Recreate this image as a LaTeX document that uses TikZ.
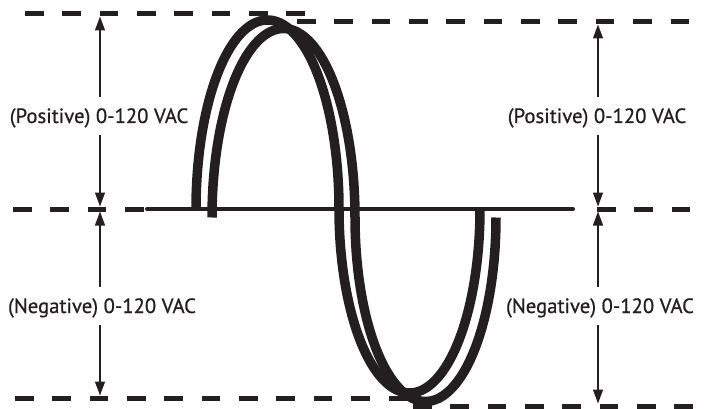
\documentclass[tikz,border=0pt]{standalone}
\usepackage{fontspec}
\newfontfamily\labfont{PT Sans}[FakeBold=0.7]
\usetikzlibrary{arrows.meta}
\definecolor{ink}{RGB}{35,31,32}
\begin{document}
\begin{tikzpicture}[x=1pt,y=-1pt,
  dashline/.style={ink, line width=5pt, dash pattern=on 18.5pt off 18.85pt},
  wave/.style={ink, line width=9.5pt, line join=round},
  axisline/.style={ink, line width=4pt, line cap=round},
  arr/.style={ink, line width=1.3pt, -{Triangle[length=14pt,width=10pt]}},
  lab/.style={text=ink, font=\labfont\fontsize{20.7}{24}\selectfont, inner xsep=0pt,
    inner ysep=11.5pt, text height=14.5pt, text depth=0pt, anchor=base}]
\useasboundingbox (0,0) rectangle (704,409);
% dashed reference lines
\draw[dashline] (25,14) -- (305,14);
\draw[dashline] (297,22) -- (689,22);
\draw[dashline] (13,209) -- (144,209);
\draw[dashline] (597,209) -- (690,209);
\draw[dashline] (15,398) -- (407,398);
\draw[dashline] (413,406) -- (693,406);
% waves
\draw[wave] plot[domain=180:360, samples=120] ({267.5+71.5*cos(\x)},{209+189*sin(\x)})
  -- plot[domain=180:0, samples=120] ({409.5+70.5*cos(\x)},{209+184*sin(\x)});
\begin{scope}[shift={(16,8.5)}]
\draw[wave] plot[domain=180:360, samples=120] ({267.5+71.5*cos(\x)},{209+189*sin(\x)})
  -- plot[domain=180:0, samples=120] ({409.5+70.5*cos(\x)},{209+184*sin(\x)});
\end{scope}
% zero axis
\draw[axisline] (147,209) -- (573,209);
% arrow tips
\coordinate (LposTop) at (100,16.5);
\coordinate (LposBot) at (100,206.5);
\coordinate (LnegTop) at (100,211.5);
\coordinate (LnegBot) at (100,395.5);
\coordinate (RposTop) at (598,24.5);
\coordinate (RposBot) at (598,206.5);
\coordinate (RnegTop) at (598,211.5);
\coordinate (RnegBot) at (598,403.5);
% labels
\node[lab] (Lpos) at (99,123) {(Positive) 0-120 VAC};
\node[lab] (Lneg) at (102,313) {(Negative) 0-120 VAC};
\node[lab] (Rpos) at (597,123) {(Positive) 0-120 VAC};
\node[lab] (Rneg) at (600,313) {(Negative) 0-120 VAC};
% arrows
\draw[arr] (Lpos.north -| LposTop) -- (LposTop);
\draw[arr] (Lpos.south -| LposBot) -- (LposBot);
\draw[arr] (Lneg.north -| LnegTop) -- (LnegTop);
\draw[arr] (Lneg.south -| LnegBot) -- (LnegBot);
\draw[arr] (Rpos.north -| RposTop) -- (RposTop);
\draw[arr] (Rpos.south -| RposBot) -- (RposBot);
\draw[arr] (Rneg.north -| RnegTop) -- (RnegTop);
\draw[arr] (Rneg.south -| RnegBot) -- (RnegBot);
\end{tikzpicture}
\end{document}
